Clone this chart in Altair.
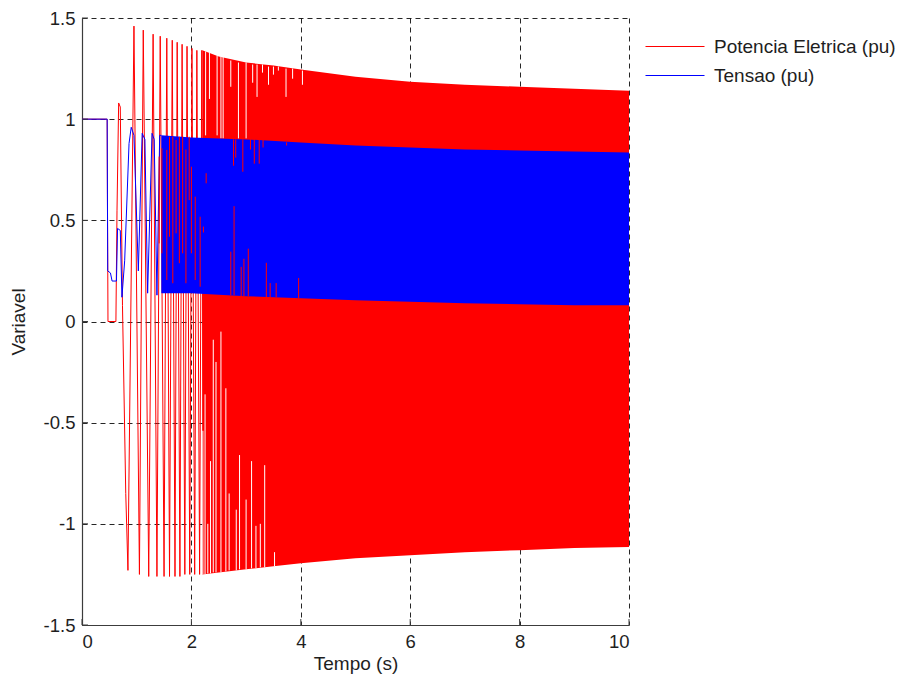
import altair as alt
import pandas as pd

SERIES = ["Potencia Eletrica (pu)", "Tensao (pu)"]
COLORS = ["#ff0000", "#0000ff"]

# Potencia Eletrica: explicit extremes of the early (resolved) swings
red_t = [0, 0.46, 0.465, 0.475, 0.62, 0.64, 0.67, 0.70, 0.74, 0.80, 0.84, 0.95, 1.05, 1.12, 1.22,
         1.30, 1.37, 1.43, 1.50, 1.55, 1.60, 1.65, 1.70, 1.74, 1.79, 1.83, 1.88, 1.92, 1.97,
         2.01, 2.06, 2.10, 2.15, 2.19, 2.22]
red_v = [1.0, 1.0, 0.63, 0.0, 0.0, 0.55, 1.08, 1.06, 0.08, -0.85, -1.23, 1.46, -1.25, 1.44, -1.26,
         1.42, -1.26, 1.41, -1.26, 1.40, -1.26, 1.39, -1.26, 1.38, -1.26, 1.37, -1.25, 1.36, -1.25,
         1.35, -1.25, 1.34, -1.25, 1.34, -1.245]

# Potencia Eletrica: envelope of the dense oscillation
red_env_t = [2.2, 2.5, 3, 3.5, 4, 5, 6, 7, 8, 9, 10]
red_hi = [1.34, 1.31, 1.28, 1.265, 1.245, 1.21, 1.185, 1.17, 1.16, 1.15, 1.14]
red_lo = [-1.25, -1.24, -1.225, -1.21, -1.195, -1.17, -1.155, -1.14, -1.13, -1.12, -1.115]

# Tensao: explicit early trace
blue_t = [0, 0.46, 0.465, 0.47, 0.52, 0.55, 0.63, 0.65, 0.70, 0.73, 0.78, 0.86, 0.90, 0.95,
          1.03, 1.10, 1.15, 1.20, 1.28, 1.32, 1.37, 1.42, 1.45]
blue_v = [1.0, 1.0, 0.63, 0.25, 0.24, 0.2, 0.2, 0.46, 0.45, 0.12, 0.3, 0.88, 0.96, 0.92,
          0.25, 0.93, 0.90, 0.14, 0.93, 0.90, 0.13, 0.92, 0.92]

# Tensao: envelope of the dense oscillation
blue_env_t = [1.45, 2, 3, 4, 5, 6, 7, 8, 9, 10]
blue_hi = [0.92, 0.91, 0.90, 0.885, 0.87, 0.86, 0.85, 0.845, 0.84, 0.835]
blue_lo = [0.14, 0.14, 0.125, 0.115, 0.105, 0.097, 0.09, 0.085, 0.08, 0.08]

# incomplete swings of the power trace (white gaps in the red band)
gap_t = [2.54, 2.58, 2.72, 2.86, 3.0, 3.12, 3.2, 3.3, 3.41, 3.5, 3.59, 3.73, 3.85, 4.03,
         2.26, 2.33, 2.47,
         2.21, 2.25, 2.30, 2.35, 2.4, 2.45, 2.54, 2.63, 2.69, 2.82, 2.88, 3.0, 3.1, 3.18, 3.26, 3.34, 3.52]
gap_a = [1.31, 1.31, 1.29, 1.28, 1.28, 1.27, 1.27, 1.27, 1.26, 1.26, 1.26, 1.25, 1.25, 1.24,
         1.335, 1.33, 1.315,
         -1.25, -1.25, -1.245, -1.245, -1.24, -1.24, -1.24, -1.235, -1.23, -1.23, -1.225, -1.225, -1.22,
         -1.22, -1.215, -1.215, -1.21]
gap_b = [0.905, 0.905, 1.16, 0.905, 0.905, 1.18, 1.11, 1.23, 1.17, 1.22, 1.24, 1.11, 1.20, 1.17,
         0.92, 1.1, 0.92,
         -0.54, -0.36, -1.0, -0.69, -0.09, -0.2, -0.05, -0.33, -0.85, -0.93, -0.66, -0.88, -0.69,
         -1.01, -1.0, -0.71, -1.14]

# power trace showing through the voltage band
thru_t = [1.41, 1.46, 1.55, 1.60, 1.66, 1.72, 1.78, 1.84, 1.90, 1.96, 2.0, 2.07, 2.16, 2.22, 2.27,
          2.77, 2.81, 2.94, 3.08, 3.15, 3.24, 3.31, 3.74,
          2.72, 2.78, 2.91, 2.96, 3.04, 3.37, 3.44, 3.55, 3.96]
thru_a = [0.815, 0.856, 0.848, 0.913, 0.913, 0.897, 0.913, 0.913, 0.85, 0.913, 0.765, 0.617, 0.518, 0.469, 0.733,
          0.90, 0.90, 0.90, 0.90, 0.90, 0.90, 0.90, 0.885,
          0.13, 0.13, 0.125, 0.125, 0.125, 0.12, 0.12, 0.12, 0.115]
thru_b = [0.386, 0.337, 0.205, 0.419, 0.189, 0.436, 0.288, 0.337, 0.189, 0.6, 0.337, 0.205, 0.172, 0.44, 0.683,
          0.77, 0.81, 0.74, 0.85, 0.78, 0.78, 0.86, 0.87,
          0.345, 0.57, 0.27, 0.31, 0.36, 0.29, 0.19, 0.19, 0.215]

x_ticks = [0, 2, 4, 6, 8, 10]
y_ticks = [-1.5, -1, -0.5, 0, 0.5, 1, 1.5]

FONT = "Liberation Sans"
TXT = "#1e1e1e"
AX = "#3c3c3c"

xs = alt.Scale(domain=[0, 10], nice=False, zero=False)
ys = alt.Scale(domain=[-1.5, 1.5], nice=False, zero=False)
xaxis = alt.Axis(values=x_ticks, title="Tempo (s)", labelExpr="toString(datum.value)",
                 titleX=273.5, titleY=38, titleBaseline="middle", labelPadding=7)
yaxis = alt.Axis(values=y_ticks, title="Variavel", labelExpr="toString(datum.value)",
                 titleX=-64, titleY=303.5, titleBaseline="middle", titleAngle=270, labelPadding=7)


def X(f):
    return alt.X(f, scale=xs, axis=xaxis, title="Tempo (s)")


def Y(f):
    return alt.Y(f, scale=ys, axis=yaxis, title="Variavel")


# legend line drawn as a custom path: half-length 7.375 units * sqrt(64)/2 = 29.5 px
color = alt.Color("s:N", scale=alt.Scale(domain=SERIES, range=COLORS),
                  legend=alt.Legend(title=None, orient="none", legendX=583.5, legendY=19,
                                    symbolType="M-7.375,0H7.375", symbolSize=64,
                                    symbolStrokeWidth=1.2,
                                    labelFont=FONT, labelFontSize=19, labelColor=TXT,
                                    labelLimit=0, labelOffset=29.5, rowPadding=9, padding=0))

red_line = alt.Chart(pd.DataFrame({"t": red_t, "v": red_v, "s": SERIES[0]})).mark_line(
    strokeWidth=1, clip=True).encode(x=X("t:Q"), y=Y("v:Q"), color=color, order="t:Q")
red_band = alt.Chart(pd.DataFrame({"t": red_env_t, "hi": red_hi, "lo": red_lo})).mark_area(
    color=COLORS[0], opacity=1, clip=True).encode(x=X("t:Q"), y=Y("hi:Q"), y2="lo:Q")
gaps = alt.Chart(pd.DataFrame({"t": gap_t, "a": gap_a, "b": gap_b})).mark_rule(
    color="white", strokeWidth=1).encode(x=X("t:Q"), y=Y("a:Q"), y2="b:Q")
blue_line = alt.Chart(pd.DataFrame({"t": blue_t, "v": blue_v, "s": SERIES[1]})).mark_line(
    strokeWidth=1, clip=True).encode(x=X("t:Q"), y=Y("v:Q"), color=color, order="t:Q")
blue_band = alt.Chart(pd.DataFrame({"t": blue_env_t, "hi": blue_hi, "lo": blue_lo})).mark_area(
    color=COLORS[1], opacity=1, clip=True).encode(x=X("t:Q"), y=Y("hi:Q"), y2="lo:Q")
thru = alt.Chart(pd.DataFrame({"t": thru_t, "a": thru_a, "b": thru_b})).mark_rule(
    color=COLORS[0], strokeWidth=1).encode(x=X("t:Q"), y=Y("a:Q"), y2="b:Q")
xt = alt.Chart(pd.DataFrame({"t": x_ticks})).mark_rule(color=AX, strokeWidth=1).encode(
    x=X("t:Q"), y=alt.value(607), y2=alt.value(601))
yt = alt.Chart(pd.DataFrame({"v": y_ticks})).mark_rule(color=AX, strokeWidth=1).encode(
    y=Y("v:Q"), x=alt.value(0), x2=alt.value(6))

chart = alt.layer(red_line, red_band, gaps, blue_line, blue_band, thru, xt, yt).properties(
    width=547, height=607,
    padding={"left": 82, "top": 18, "right": 273, "bottom": 54},
    autosize=alt.AutoSizeParams(type="none"),
    background="white",
).configure_view(stroke=None).configure_axis(
    labelFont=FONT, labelFontSize=18.5, labelColor=TXT,
    titleFont=FONT, titleFontSize=19, titleColor=TXT, titleFontWeight="normal",
    domainColor=AX, domainWidth=1.2, tickSize=0,
    grid=True, gridColor="#000000", gridOpacity=0.85, gridDash=[5, 4], gridWidth=1,
)

chart.save("out.html", embed_options={"renderer": "svg", "actions": False})
